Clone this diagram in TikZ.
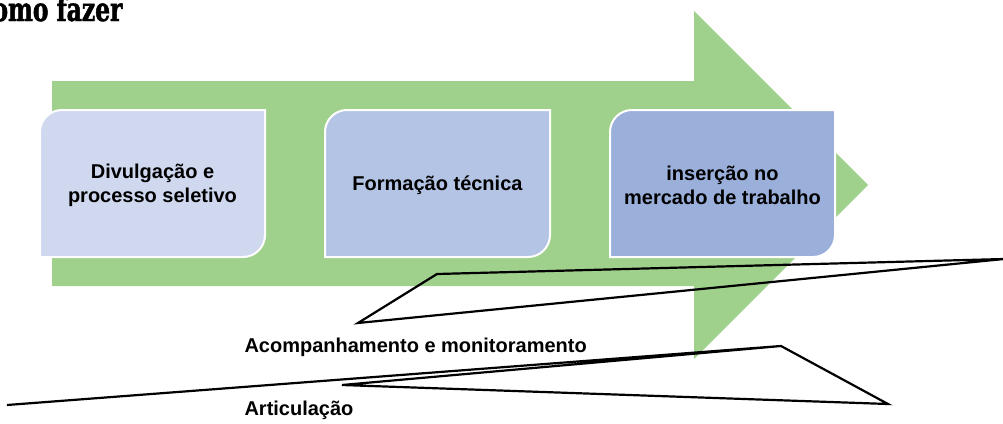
\documentclass[tikz,border=0pt]{standalone}
\usepackage{fontspec}
\setmainfont{Liberation Sans}
\newfontfamily\titlefont{DejaVu Serif}[FakeStretch=0.71, BoldFeatures={FakeBold=1.5}]
\definecolor{arrowgreen}{RGB}{160,209,140}
\definecolor{stageone}{RGB}{207,216,238}
\definecolor{stagetwo}{RGB}{180,196,229}
\definecolor{stagethree}{RGB}{155,175,219}

\begin{document}
\begin{tikzpicture}[x=1pt,y=-1pt,
    stage/.style={draw=white, line width=2pt},
    stagetext/.style={font=\fontsize{20}{24}\selectfont\bfseries, align=center, text=black},
    callout/.style={draw=black, line width=2.2pt, line join=miter},
    note/.style={font=\fontsize{20}{24}\selectfont\bfseries, anchor=base west}]
  \useasboundingbox (0,0) rectangle (1003,423);

  \node[anchor=base east, font=\titlefont\bfseries\fontsize{33}{36}\selectfont] (title) at (126,21) {Como fazer};

  % big arrow
  \fill[arrowgreen] (52,81) -- (694,81) -- (694,11) -- (868,185) -- (694,359) -- (694,286) -- (52,286) -- cycle;

  % stages
  \filldraw[stage, fill=stageone] (40,257) -- (40,132) .. controls (40,119.85) and (49.85,110) .. (62,110) -- (265,110) -- (265,235) .. controls (265,247.15) and (255.15,257) .. (243,257) -- cycle;
  \node[stagetext] (divulg) at (152.5,185) {Divulgação e\\processo seletivo};

  \filldraw[stage, fill=stagetwo] (325,257) -- (325,132) .. controls (325,119.85) and (334.85,110) .. (347,110) -- (550,110) -- (550,235) .. controls (550,247.15) and (540.15,257) .. (528,257) -- cycle;
  \node[stagetext] (formacao) at (437.5,185) {Formação técnica};

  \filldraw[stage, fill=stagethree] (610,257) -- (610,132) .. controls (610,119.85) and (619.85,110) .. (632,110) -- (835,110) -- (835,235) .. controls (835,247.15) and (825.15,257) .. (813,257) -- cycle;
  \node[stagetext] (insercao) at (722.5,185) {inserção no\\mercado de trabalho};

  % callouts
  \coordinate (acA) at (358,323);
  \coordinate (acB) at (437,274);
  \coordinate (acC) at (1004,259);
  \draw[callout] (acA) -- (acB) -- (acC) -- cycle;
  \node[note] (acomp) at (241,352) {Acompanhamento e monitoramento};

  \coordinate (arTail) at (7,405);
  \coordinate (arTop) at (781,346);
  \coordinate (arRight) at (888,404);
  \coordinate (arIn) at (342,385);
  \draw[callout] (arTail) -- (arTop) -- (arRight) -- (arIn) -- (arTop);
  \node[note] (artic) at (241,415) {Articulação};
\end{tikzpicture}
\end{document}
